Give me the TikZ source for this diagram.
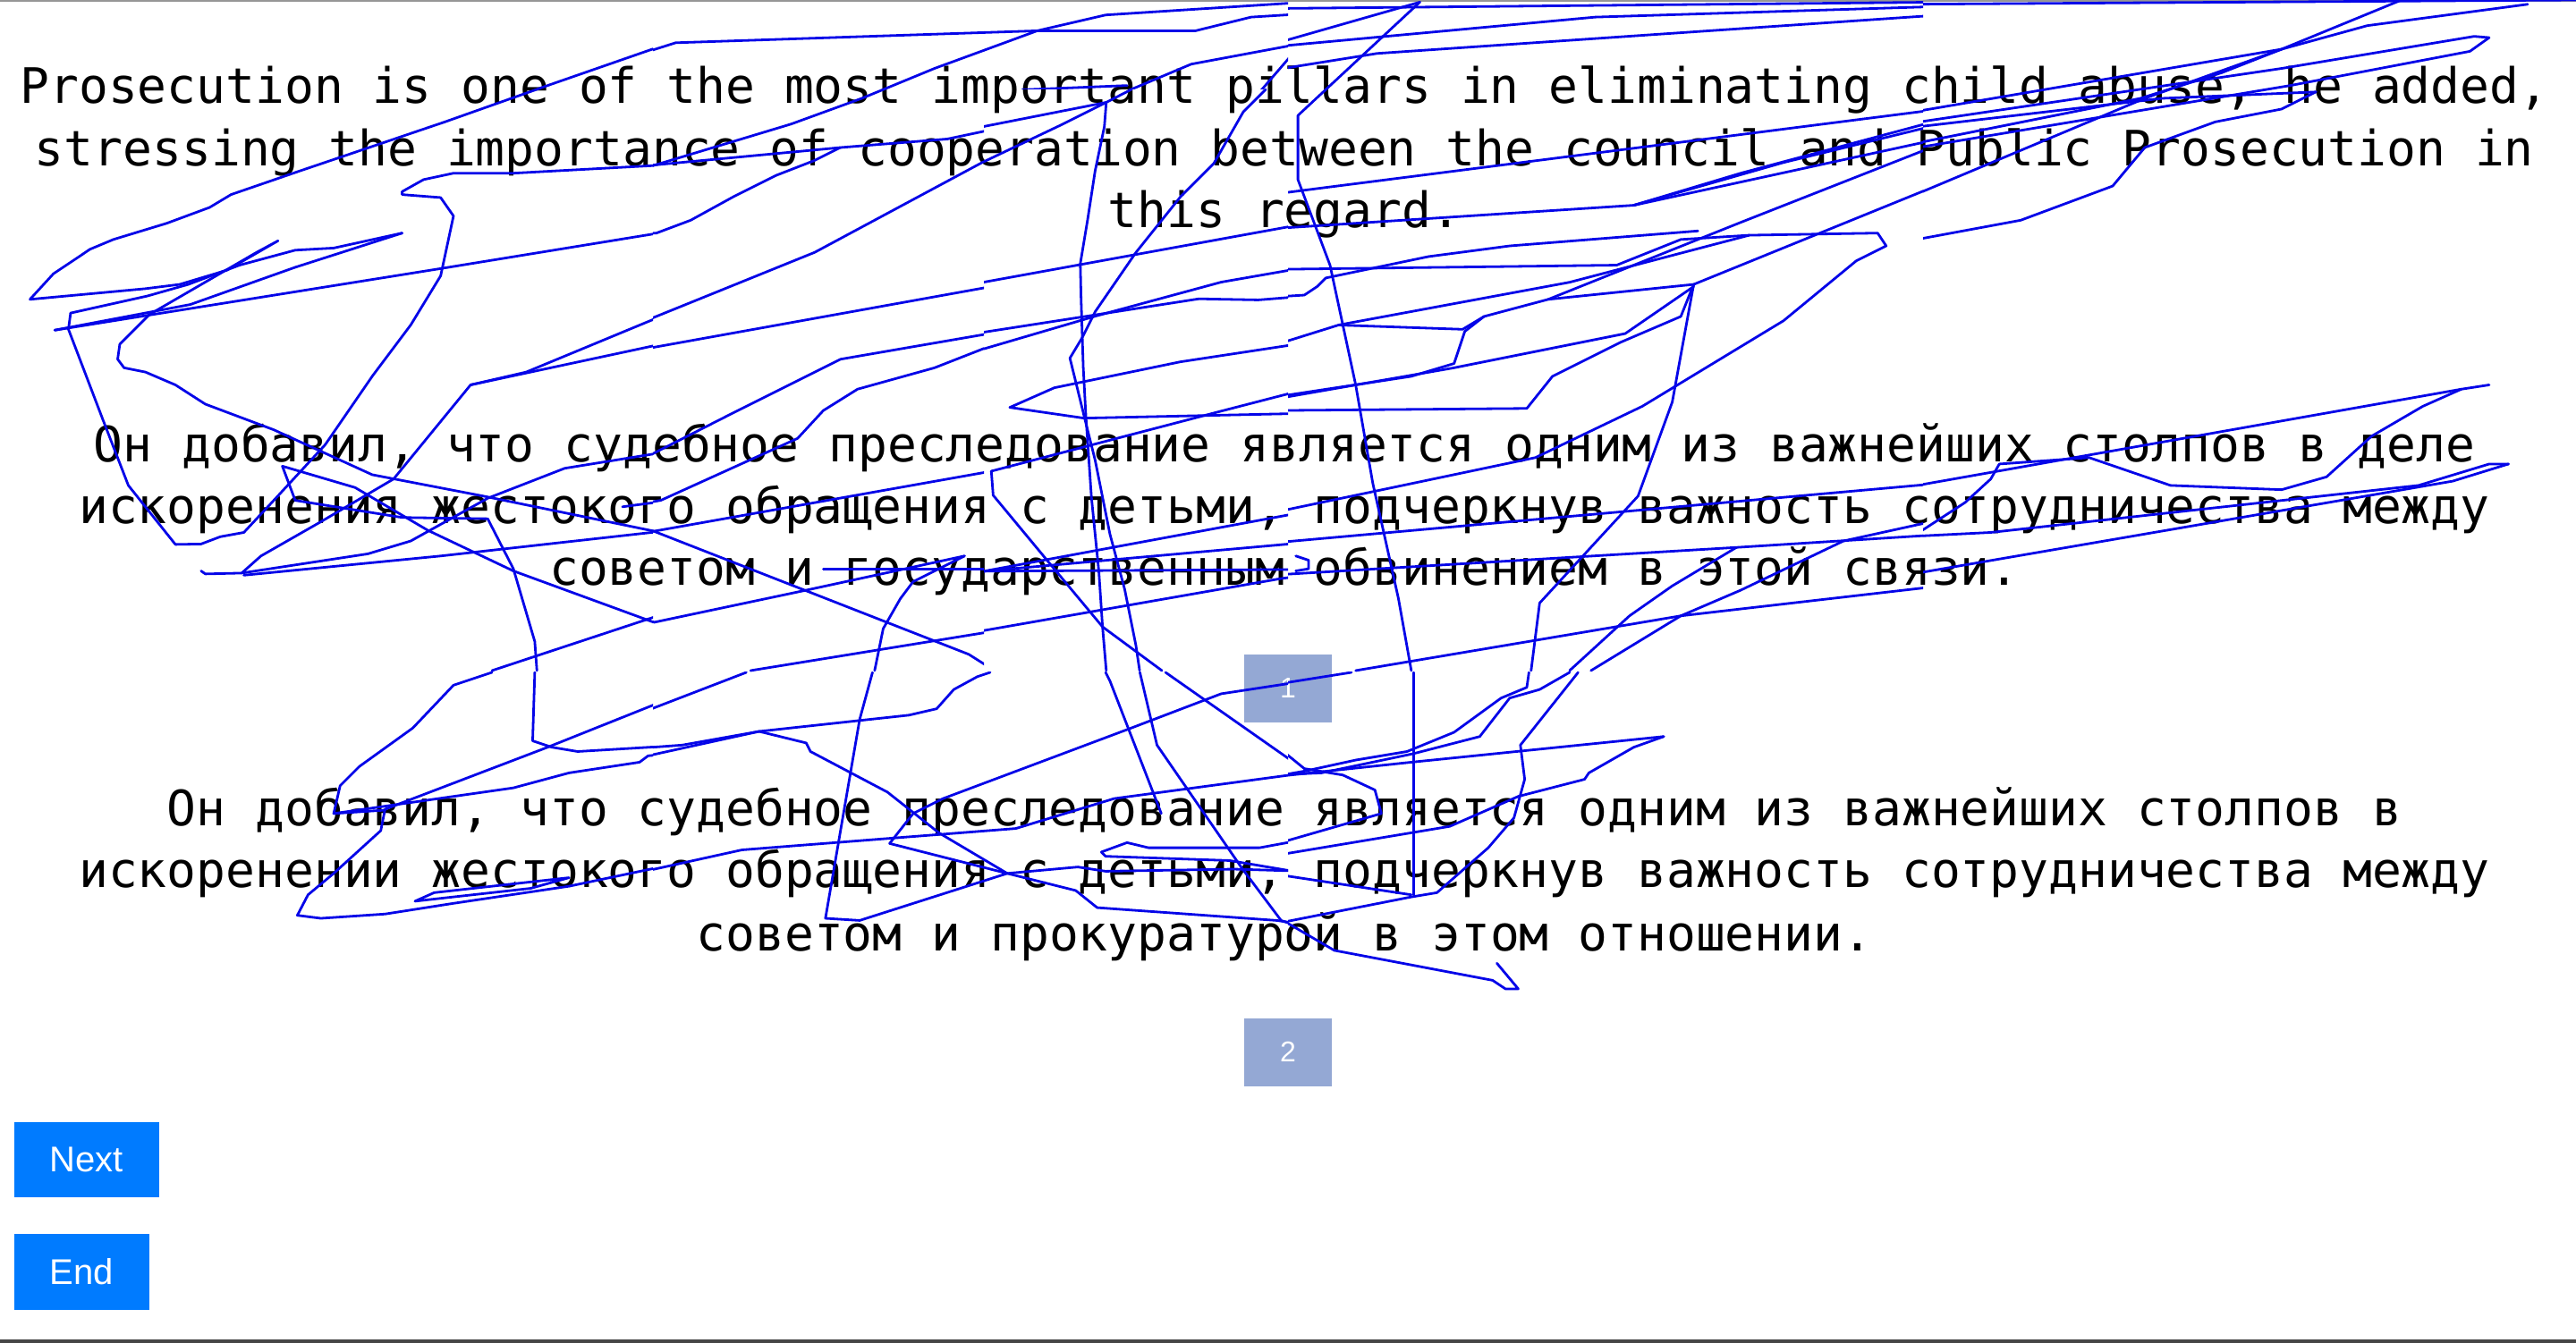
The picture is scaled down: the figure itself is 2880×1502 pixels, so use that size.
\documentclass[tikz,border=0pt]{standalone}
\usepackage{fontspec}
\setmonofont{DejaVu Sans Mono}
\newfontfamily\btnfont{Liberation Sans}
\definecolor{btnblue}{RGB}{0,123,255}
\definecolor{numblue}{RGB}{148,168,212}
\definecolor{scribblue}{RGB}{5,5,232}
\definecolor{topgray}{RGB}{150,150,150}
\definecolor{botgray}{RGB}{70,70,70}
\tikzset{
  para/.style={anchor=base, inner sep=0pt, text=black, font=\ttfamily\frenchspacing\fontsize{27.3pt}{34.75pt}\selectfont},
  numbox/.style={fill=numblue, text=white, minimum width=49pt, minimum height=38pt, inner sep=0pt, font=\btnfont\fontsize{16pt}{16pt}\selectfont},
  navbtn/.style={fill=btnblue, text=white, inner sep=0pt, font=\btnfont\fontsize{20pt}{20pt}\selectfont},
  scrib/.style={draw=scribblue, line width=1.4pt, line join=round, line cap=round},
  tileA/.style={shift={(0,0)}, scale=0.4783},
  tileB/.style={shift={(710,0)}, scale=0.4783},
  tileC/.style={shift={(1420,0)}, scale=0.4783},
  tileD/.style={shift={(2130,0)}, scale=0.4783},
  tileE/.style={shift={(0,752)}, scale=0.4783},
  tileF/.style={shift={(710,752)}, scale=0.4783},
  tileG/.style={shift={(1420,752)}, scale=0.4783},
  tileZ/.style={shift={(1100,100)}, scale=0.4145}
}
\newcommand\scribB{%
\draw[scrib] (0,130)--(95,100)--(940,72)--(1310,72)--(1440,40)--(1568,32);
\draw[scrib] (940,72)--(1100,35)--(1568,5);
\draw[scrib] (0,400)--(365,290)--(530,230)--(700,160)--(940,72);
\draw[scrib] (0,390)--(480,345)--(730,325)--(920,285)--(1110,230)--(1300,150)--(1568,100);
\draw[scrib] (0,545)--(50,545)--(130,515)--(230,460)--(330,410)--(420,375)--(480,345);
\draw[scrib] (0,760)--(420,590)--(815,378);
\draw[scrib] (0,820)--(1000,640)--(1568,520);
\draw[scrib] (0,1082)--(240,960)--(440,860)--(480,840)--(1060,740)--(1568,700);
\draw[scrib] (0,1180)--(60,1170)--(380,1025)--(440,960)--(520,910)--(700,860)--(815,815)--(1060,800)--(1320,765)--(1430,780)--(1490,740)--(1568,735);
\draw[scrib] (0,1250)--(832,1102);
\draw[scrib] (832,1102)--(1568,900);
\draw[scrib] (832,1102)--(840,1150)--(1100,1480)--(1240,1568);
\draw[scrib] (0,1225)--(780,1530)--(840,1568);
\draw[scrib] (0,1440)--(45,1455)--(400,1380)--(770,1300);
\draw[scrib] (440,1330)--(1568,1330);
\draw[scrib] (770,1300)--(650,1360)--(620,1400)--(580,1470)--(560,1568);
\draw[scrib] (270,1568)--(1060,1440)--(1568,1380);
\draw[scrib] (905,210)--(1150,200);
\draw[scrib] (1568,90)--(1430,250)--(1360,370)--(1200,560);
}
\begin{document}
\begin{tikzpicture}[x=0.5pt, y=-0.5pt]
\useasboundingbox (0,0) rectangle (2880,1502);
\fill[white] (0,0) rectangle (2880,1502);
\fill[topgray] (0,0) rectangle (2880,2);
\fill[botgray] (0,1498) rectangle (2880,1502);

% paragraph 1
\node[para] (p1a) at (1436,115.7) {Prosecution is one of the most important pillars in eliminating child abuse, he added,};
\node[para] (p1b) at (1436,185.6) {stressing the importance of cooperation between the council and Public Prosecution in};
\node[para] (p1c) at (1436,254.5) {this regard.};
% paragraph 2
\node[para] (p2a) at (1436,516.6) {Он добавил, что судебное преследование является одним из важнейших столпов в деле};
\node[para] (p2b) at (1436,586) {искоренения жестокого обращения с детьми, подчеркнув важность сотрудничества между};
\node[para] (p2c) at (1436,654) {советом и государственным обвинением в этой связи.};
% paragraph 3
\node[para] (p3a) at (1436,923) {Он добавил, что судебное преследование является одним из важнейших столпов в};
\node[para] (p3b) at (1436,992.6) {искоренении жестокого обращения с детьми, подчеркнув важность сотрудничества между};
\node[para] (p3c) at (1436,1063) {советом и прокуратурой в этом отношении.};

\node[numbox] (n1) at (1440,769.5) {1};
\node[numbox] (n2) at (1440,1176.5) {2};
\node[navbtn, minimum width=81pt, minimum height=42pt] (next) at (97,1297) {Next};
\node[navbtn, minimum width=75.5pt, minimum height=42.5pt] (end) at (91.5,1422.5) {End};

% scribble, tile A
\begin{scope}
\clip (-10,-10) rectangle (730,751);
\begin{scope}[tileA]
\draw[scrib] (1568,100)--(1280,200)--(1040,285)--(700,400)--(540,455)--(490,485)--(390,522)--(265,560)--(210,583)--(185,600)--(125,640)--(70,700)--(340,675)--(420,665)--(530,632)--(650,563)--(600,590)--(350,735)--(280,805)--(275,840)--(290,860)--(340,870)--(410,900)--(480,945)--(640,1005)--(870,1110)--(1130,1160)--(1568,1250);
\draw[scrib] (940,545)--(780,580)--(690,585)--(560,620)--(440,665)--(345,692)--(165,732)--(160,770)--(240,980)--(300,1135)--(410,1273)--(470,1272)--(515,1255)--(570,1245)--(640,1170)--(760,1040)--(870,880)--(960,760)--(1030,645)--(1060,505)--(1030,462)--(940,455)--(940,448)--(990,420)--(1060,405)--(1200,405)--(1568,385);
\draw[scrib] (128,772)--(1030,628)--(1540,545)--(1568,535);
\draw[scrib] (128,772)--(445,712)--(690,625)--(940,545);
\draw[scrib] (470,1335)--(480,1342)--(565,1340)--(860,1295)--(960,1265)--(1140,1165)--(1320,1095)--(1568,1055);
\draw[scrib] (565,1340)--(610,1300)--(750,1220)--(920,1120)--(1100,900)--(1230,870)--(1568,730);
\draw[scrib] (1100,900)--(1568,800);
\draw[scrib] (570,1345)--(1030,1300)--(1568,1240);
\draw[scrib] (660,1090)--(690,1170)--(940,1210)--(1140,1213)--(1200,1330)--(1250,1500)--(1255,1568);
\draw[scrib] (660,1090)--(830,1140)--(1000,1240)--(1200,1335)--(1528,1455)--(1568,1440);
\draw[scrib] (1150,1568)--(1568,1430);
\draw[scrib] (1455,1185)--(1568,1170);
\end{scope}
\end{scope}

% tile B (clipped so that tile Z draws the region 1100..1440 x 100..750)
\begin{scope}
\clip (730,-10) rectangle (1100,751);
\begin{scope}[tileB]\scribB\end{scope}
\end{scope}
\begin{scope}
\clip (1100,-10) rectangle (1440,100);
\begin{scope}[tileB]\scribB\end{scope}
\end{scope}

% tile Z
\begin{scope}
\clip (1100,100) rectangle (1440,751);
\begin{scope}[tileZ]
\draw[scrib] (0,100)--(330,35)--(398,0);
\draw[scrib] (0,195)--(210,95)--(330,35);
\draw[scrib] (330,35)--(325,100)--(300,220)--(280,350)--(260,470)--(262,560)--(268,750)--(275,880)--(290,1100)--(310,1300)--(320,1450)--(330,1568);
\draw[scrib] (760,0)--(700,60)--(620,200)--(590,230)--(530,290)--(410,440)--(300,600)--(265,670)--(232,725)--(270,880)--(300,1000)--(340,1200)--(380,1350)--(410,1500)--(420,1568);
\draw[scrib] (0,520)--(1568,235);
\draw[scrib] (0,655)--(580,565)--(740,568)--(865,558)--(895,545)--(915,510)--(975,490)--(1568,340);
\draw[scrib] (0,700)--(300,612)--(640,520)--(1568,358);
\draw[scrib] (70,858)--(190,805)--(530,735)--(860,685)--(940,660)--(990,633)--(1568,528);
\draw[scrib] (70,858)--(270,887)--(1464,861);
\draw[scrib] (20,1030)--(25,1095)--(170,1270)--(320,1450)--(480,1568);
\draw[scrib] (20,1030)--(640,868)--(1000,775);
\draw[scrib] (0,1300)--(880,1295);
\draw[scrib] (840,1255)--(880,1265)--(885,1295);
\draw[scrib] (0,1300)--(1568,1160);
\draw[scrib] (0,1300)--(1568,1010);
\draw[scrib] (0,1460)--(800,1320)--(1568,1220);
\end{scope}
\end{scope}

% tile C
\begin{scope}
\clip (1440,-10) rectangle (2150,751);
\begin{scope}[tileC]
\draw[scrib] (0,20)--(1568,5);
\draw[scrib] (0,105)--(350,5);
\draw[scrib] (0,110)--(760,40)--(1568,15);
\draw[scrib] (0,165)--(250,125)--(1568,35);
\draw[scrib] (350,5)--(65,270)--(65,420)--(140,620)--(200,900)--(240,1130)--(300,1400)--(330,1568);
\draw[scrib] (0,455)--(1568,255);
\draw[scrib] (0,535)--(850,480)--(1100,405)--(1568,280);
\draw[scrib] (850,480)--(1200,380)--(1568,290);
\draw[scrib] (850,480)--(1568,324);
\draw[scrib] (650,700)--(1100,520)--(1568,336);
\draw[scrib] (0,630)--(810,620)--(960,560)--(1120,550)--(1420,545);
\draw[scrib] (0,695)--(80,690)--(110,670)--(130,650)--(370,600)--(560,575)--(1000,540);
\draw[scrib] (160,760)--(700,660)--(1120,550);
\draw[scrib] (0,810)--(160,760)--(450,770)--(500,740)--(650,700)--(990,665)--(1568,430);
\draw[scrib] (0,935)--(430,860)--(830,780)--(990,670);
\draw[scrib] (0,930)--(330,880)--(430,850)--(455,775)--(500,740);
\draw[scrib] (0,960)--(600,955)--(660,880)--(820,800)--(960,740)--(990,665);
\draw[scrib] (990,665)--(940,940)--(860,1160)--(630,1410)--(610,1568);
\draw[scrib] (1420,545)--(1440,575)--(1370,610)--(1200,750)--(870,950)--(620,1070)--(0,1200);
\draw[scrib] (0,1270)--(1568,1130);
\draw[scrib] (0,1345)--(1090,1280)--(1568,1250);
\draw[scrib] (1090,1280)--(940,1370)--(840,1440)--(700,1568);
\draw[scrib] (200,1568)--(960,1440)--(1568,1370);
\draw[scrib] (750,1568)--(960,1440)--(1100,1380)--(1340,1265)--(1568,1215);
\draw[scrib] (60,1300)--(90,1310)--(90,1330)--(60,1335);
\end{scope}
\end{scope}

% tile D
\begin{scope}
\clip (2150,-10) rectangle (2890,751);
\begin{scope}[tileD]
\draw[scrib] (0,10)--(1568,0);
\draw[scrib] (1160,0)--(880,115)--(740,170)--(550,230)--(0,340);
\draw[scrib] (1455,10)--(1080,60)--(880,115)--(0,265);
\draw[scrib] (1365,88)--(1330,85)--(880,160)--(0,290);
\draw[scrib] (1365,88)--(1320,120)--(900,200)--(0,350);
\draw[scrib] (960,215)--(600,230)--(0,300);
\draw[scrib] (960,215)--(880,255)--(725,285)--(560,345)--(485,435)--(270,515)--(0,565);
\draw[scrib] (0,465)--(560,230)--(880,115);
\draw[scrib] (1365,900)--(1300,910)--(0,1140);
\draw[scrib] (1300,910)--(1210,950)--(1090,1020)--(985,1115)--(880,1145)--(620,1135)--(430,1070)--(220,1085)--(200,1120)--(140,1175)--(40,1240)--(0,1250);
\draw[scrib] (1410,1085)--(1365,1085)--(1200,1135)--(200,1245)--(0,1255);
\draw[scrib] (1410,1085)--(1280,1125)--(0,1345);
\end{scope}
\end{scope}

% tile E
\begin{scope}
\clip (-10,751) rectangle (730,1510);
\begin{scope}[tileE]
\draw[scrib] (1150,0)--(1060,30)--(965,130)--(840,220)--(795,265)--(780,330)--(900,322);
\draw[scrib] (780,330)--(1200,270)--(1330,235)--(1495,210)--(1515,195)--(1568,190);
\draw[scrib] (1250,0)--(1245,160)--(1290,175)--(1350,185)--(1568,172);
\draw[scrib] (1568,60)--(1280,175)--(900,320)--(890,370)--(780,470)--(720,520)--(695,568)--(750,575)--(900,565)--(1060,540)--(1330,500)--(1568,450);
\draw[scrib] (970,535)--(1015,515)--(1330,480)--(1240,505)--cycle;
\end{scope}
\end{scope}

% tile F
\begin{scope}
\clip (730,751) rectangle (1440,1510);
\begin{scope}[tileF]
\draw[scrib] (0,100)--(260,0);
\draw[scrib] (0,210)--(30,195)--(290,138)--(640,100)--(705,85)--(745,40)--(800,10)--(830,0);
\draw[scrib] (0,178)--(110,170)--(290,138)--(400,165)--(410,185)--(590,280)--(710,375)--(870,470)--(1030,510)--(1080,550)--(1500,580)--(1568,590);
\draw[scrib] (555,0)--(525,110)--(445,575)--(525,580)--(870,470)--(1035,455)--(1100,465)--(1400,460)--(1568,465);
\draw[scrib] (1100,0)--(1110,20)--(1230,330);
\draw[scrib] (1180,0)--(1220,170)--(1420,460)--(1510,580)--(1568,600);
\draw[scrib] (1240,0)--(1568,230);
\draw[scrib] (0,470)--(250,415)--(890,365)--(1120,295)--(1568,235);
\draw[scrib] (595,400)--(650,330)--(720,295)--(1160,130)--(1370,50)--(1568,20);
\draw[scrib] (595,400)--(870,470);
\draw[scrib] (1090,420)--(1150,398)--(1200,410)--(1460,410)--(1568,390);
\draw[scrib] (1090,420)--(1100,430)--(1390,440)--(1568,470);
\end{scope}
\end{scope}

% tile G
\begin{scope}
\clip (1440,751) rectangle (2890,1510);
\begin{scope}[tileG]
\draw[scrib] (0,30)--(190,0);
\draw[scrib] (335,0)--(335,520);
\draw[scrib] (605,0)--(600,35)--(540,60)--(430,140)--(320,185)--(200,205)--(85,230)--(0,245);
\draw[scrib] (700,0)--(630,40)--(560,60)--(490,150)--(335,190)--(120,235)--(0,240);
\draw[scrib] (720,0)--(585,170)--(595,250)--(570,340)--(510,410)--(390,515)--(330,525)--(0,590);
\draw[scrib] (920,150)--(330,210)--(0,245);
\draw[scrib] (920,150)--(850,175)--(745,235)--(735,250)--(580,290)--(420,360)--(0,430);
\draw[scrib] (0,160)--(80,225)--(170,240)--(245,275)--(260,330)--(0,405);
\draw[scrib] (0,470)--(330,520);
\draw[scrib] (0,540)--(30,580)--(150,650)--(520,720)--(550,740)--(580,740)--(530,680);
\end{scope}
\end{scope}
\end{tikzpicture}
\end{document}
